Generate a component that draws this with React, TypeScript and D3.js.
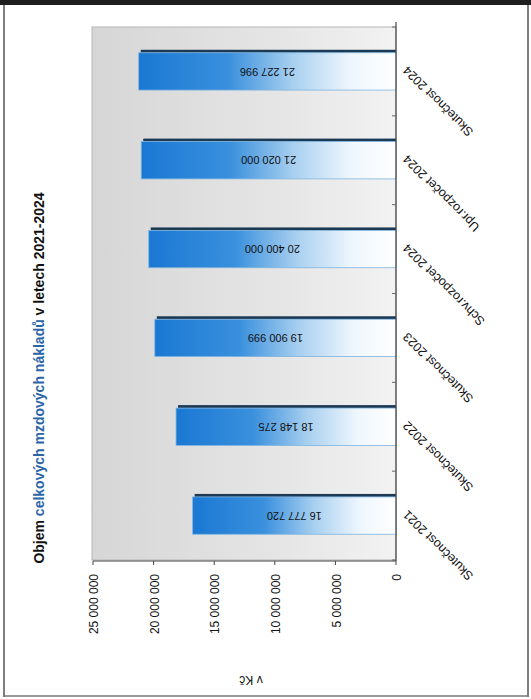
import React from "react";
import * as d3 from "d3";

const categories = [
  "Skutečnost 2021",
  "Skutečnost 2022",
  "Skutečnost 2023",
  "Schv.rozpočet 2024",
  "Upr.rozpočet 2024",
  "Skutečnost 2024",
];
const values = [16777720, 18148275, 19900999, 20400000, 21020000, 21227996];
const valueLabels = ["16 777 720", "18 148 275", "19 900 999", "20 400 000", "21 020 000", "21 227 996"];
const tickValues = [0, 5000000, 10000000, 15000000, 20000000, 25000000];
const tickLabels = ["0", "5 000 000", "10 000 000", "15 000 000", "20 000 000", "25 000 000"];
const titleParts = [
  { t: "Objem ", c: "#111" },
  { t: "celkových mzdových nákladů", c: "#2a63a6" },
  { t: " v letech 2021-2024", c: "#111" },
];
const unitLabel = "v Kč";

const FONT = "Arial, 'Liberation Sans', sans-serif";

export default function App() {
  const W = 531;
  const H = 699;
  const x = d3.scaleLinear().domain([0, 25000000]).range([396, 93]);
  const y = d3
    .scaleBand<string>()
    .domain([...categories].reverse())
    .range([27, 560])
    .paddingInner(0)
    .paddingOuter(0);
  const bw = y.bandwidth();
  const barH = bw * 0.42;

  return (
    <svg
      width={W}
      height={H}
      style={{ position: "absolute", left: 0, top: 0, background: "#fff" }}
      fontFamily={FONT}
    >
      <defs>
        <linearGradient id="wall" x1="0" x2="1" y1="0" y2="0">
          <stop offset="0" stopColor="#d6d6d6" />
          <stop offset="0.6" stopColor="#e5e5e5" />
          <stop offset="1" stopColor="#f2f2f2" />
        </linearGradient>
        <linearGradient id="bar" x1="0" x2="1" y1="0" y2="0">
          <stop offset="0" stopColor="#1a78d3" />
          <stop offset="0.35" stopColor="#3a90dd" />
          <stop offset="0.6" stopColor="#a9d0f0" />
          <stop offset="0.82" stopColor="#eef6fd" />
          <stop offset="1" stopColor="#ffffff" />
        </linearGradient>
      </defs>

      {/* page frame */}
      <rect x={0} y={0} width={W} height={5} fill="#1e1e1e" />
      <line x1={4} x2={4} y1={5} y2={697} stroke="#555" strokeWidth={1.5} />
      <line x1={528} x2={528} y1={5} y2={697} stroke="#555" strokeWidth={1.5} />
      <line x1={4} x2={528} y1={696} y2={696} stroke="#777" strokeWidth={1.5} />

      {/* back wall */}
      <rect x={92} y={27} width={304} height={533} fill="url(#wall)" stroke="#b5b5b5" strokeWidth={1} />

      {/* bars */}
      {categories.map((c, i) => {
        const yc = (y(c) as number) + bw / 2;
        const x0 = x(values[i]);
        const top = yc - barH / 2;
        return (
          <g key={c}>
            <rect x={x0 + 2} y={top - 3} width={x(0) - x0 - 2} height={3} fill="#1d3a55" />
            <rect
              x={x0}
              y={top}
              width={x(0) - x0}
              height={barH}
              fill="url(#bar)"
              stroke="#7db4e0"
              strokeWidth={0.8}
            />
            <text
              transform={`translate(${(x0 + x(0)) / 2},${yc}) rotate(180)`}
              textAnchor="middle"
              dy="0.35em"
              fontSize={11}
              fill="#111"
            >
              {valueLabels[i]}
            </text>
            <text
              transform={`translate(${x(0) + 9},${yc - 3}) rotate(-135)`}
              textAnchor="end"
              dy="0.35em"
              fontSize={12.5}
              fill="#111"
            >
              {c}
            </text>
          </g>
        );
      })}

      {/* axes */}
      <line x1={x(0)} x2={x(0)} y1={22} y2={561} stroke="#444" strokeWidth={1.2} />
      {[...categories, ""].map((c, i) => {
        const yy = 27 + i * bw;
        return <line key={"ct" + i} x1={x(0) - 4} x2={x(0)} y1={yy} y2={yy} stroke="#666" />;
      })}
      <line x1={93} x2={x(0)} y1={561} y2={561} stroke="#444" strokeWidth={1.2} />
      {tickValues.map((v, i) => (
        <g key={"t" + v}>
          <line x1={x(v)} x2={x(v)} y1={561} y2={565} stroke="#444" />
          <text
            transform={`translate(${x(v) + 1},${574}) rotate(-90)`}
            textAnchor="end"
            dy="0.35em"
            fontSize={12}
            fill="#111"
          >
            {tickLabels[i]}
          </text>
        </g>
      ))}

      {/* unit label */}
      <text
        transform={`translate(251,680) rotate(180)`}
        textAnchor="middle"
        dy="0.35em"
        fontSize={12}
        fill="#111"
      >
        {unitLabel}
      </text>

      {/* title */}
      <text
        transform={`translate(44,378) rotate(-90)`}
        textAnchor="middle"
        fontSize={14}
        fontWeight="bold"
      >
        {titleParts.map((p, i) => (
          <tspan key={i} fill={p.c}>
            {p.t}
          </tspan>
        ))}
      </text>
    </svg>
  );
}
